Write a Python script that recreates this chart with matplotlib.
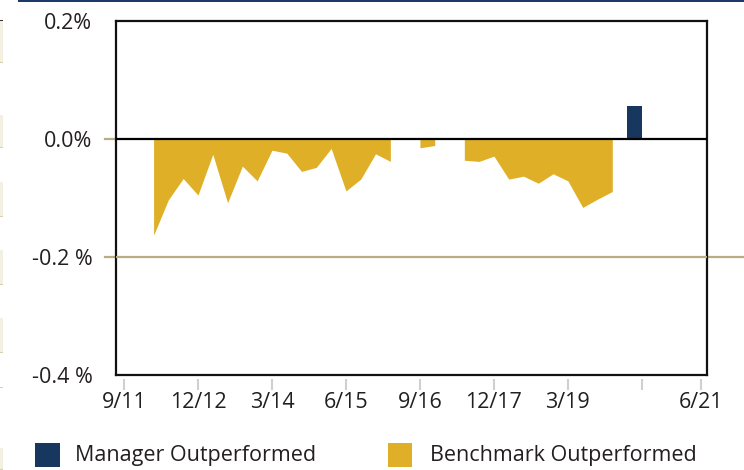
import matplotlib.pyplot as plt
import matplotlib.transforms as mtransforms
from matplotlib.patches import Rectangle
import numpy as np

plt.rcParams['font.family'] = ['Open Sans', 'DejaVu Sans']

# quarterly excess return (%), index 0 = 9/11; None = no benchmark outperformance
benchmark = [None, None, -0.163, -0.103, -0.067, -0.095, -0.026, -0.108, -0.046, -0.071,
             -0.019, -0.024, -0.055, -0.048, -0.016, -0.088, -0.068, -0.025, -0.038, None,
             -0.015, -0.011, None, -0.036, -0.038, -0.029, -0.068, -0.063, -0.075, -0.059,
             -0.071, -0.116, -0.102, -0.089, None, None, None, None, None, None]
manager_q = [34]
manager_val = [0.056]

tick_q = [0, 5, 10, 15, 20, 25, 30, 35, 39]
tick_labels = ['9/11', '12/12', '3/14', '6/15', '9/16', '12/17', '3/19', '', '6/21']
y_ticks = [-0.4, -0.2, 0.0, 0.2]
y_labels = ['-0.4 %', '-0.2 %', '0.0%', '0.2%']

gold = '#dfb027'
navy = '#17375e'
tan = '#b8ab86'
txt = '#231f20'
fs = 15.5

W, H = 744, 470
fig = plt.figure(figsize=(W / 100, H / 100), dpi=100)
ax = fig.add_axes([116 / W, 1 - 375 / H, (707 - 116) / W, (375 - 21) / H])

# gold area, one polygon per run of quarters
q = np.arange(len(benchmark))
vals = np.array([np.nan if v is None else v for v in benchmark])
ok = ~np.isnan(vals)
start = None
for i in range(len(vals) + 1):
    if i < len(vals) and ok[i]:
        if start is None:
            start = i
    elif start is not None:
        ax.fill_between(q[start:i], vals[start:i], 0, color=gold, lw=0)
        start = None

ax.bar(manager_q, manager_val, width=1, align='edge', color=navy, lw=0)

ax.axhline(0, color='black', lw=1.6, zorder=3)
blend = mtransforms.blended_transform_factory(ax.transAxes, ax.transData)
ax.plot([1.0, 1.063], [-0.2, -0.2], color=tan, lw=1.6, transform=blend, clip_on=False)
ax.plot([0, 1], [-0.2, -0.2], color=tan, lw=1.6, transform=blend, zorder=3)
for yv in (0.0, -0.2):
    ax.plot([-0.019, 0], [yv, yv], color=tan, lw=1.6, transform=blend, clip_on=False)

ax.set_xlim(-0.54, 39.4)
ax.set_ylim(-0.4, 0.2)
for s in ax.spines.values():
    s.set_linewidth(1.6)
    s.set_color('#111111')

ax.set_yticks(y_ticks, y_labels)
ax.tick_params(axis='y', length=0, pad=17, labelsize=fs, labelcolor=txt)
ax.set_xticks([])

# date ticks sit a little below the frame
sec = ax.secondary_xaxis(-0.01)
sec.spines['bottom'].set_visible(False)
sec.set_xticks(tick_q, tick_labels)
sec.tick_params(axis='x', length=8, width=1.5, color='#d0d0d0', pad=2,
                labelsize=fs, labelcolor=txt)

# navy rule along the top edge
fig.add_artist(Rectangle((18 / W, 1 - 2 / H), 1, 2 / H, transform=fig.transFigure,
                         color='#1b3a6b', lw=0))

# edge of neighbouring table on the left
for y0, y1 in [(20, 63), (115, 148), (182, 217), (250, 285), (318, 353), (448, 470)]:
    fig.add_artist(Rectangle((0, 1 - y1 / H), 3 / W, (y1 - y0) / H,
                             transform=fig.transFigure, facecolor='#f4f0e1',
                             edgecolor='none'))
    fig.add_artist(Rectangle((0, 1 - y1 / H), 3 / W, 1 / H, transform=fig.transFigure,
                             color='#d8ceb0', lw=0))
fig.add_artist(Rectangle((0, 1 - 21 / H), 3 / W, 1 / H, transform=fig.transFigure,
                         color='#333333', lw=0))
fig.add_artist(Rectangle((0, 1 - 388 / H), 3 / W, 1 / H, transform=fig.transFigure,
                         color='#d8ceb0', lw=0))

# legend
fig.add_artist(Rectangle((35 / W, 1 - 467 / H), 25 / W, 24 / H, transform=fig.transFigure,
                         color=navy, lw=0))
fig.text(75 / W, 1 - 456 / H, 'Manager Outperformed', fontsize=fs, color=txt, va='center')
fig.add_artist(Rectangle((388 / W, 1 - 467 / H), 24 / W, 24 / H, transform=fig.transFigure,
                         color=gold, lw=0))
fig.text(430 / W, 1 - 456 / H, 'Benchmark Outperformed', fontsize=fs, color=txt, va='center')

fig.savefig('out.png', dpi=100)
